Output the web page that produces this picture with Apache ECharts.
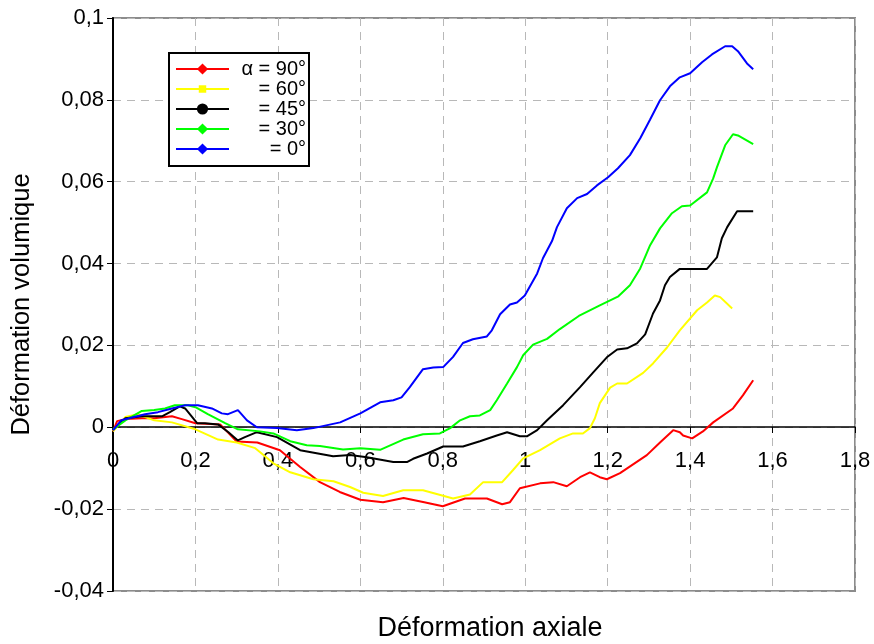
<!DOCTYPE html>
<html>
<head>
<meta charset="utf-8">
<script src="https://cdn.jsdelivr.net/npm/echarts@6/dist/echarts.min.js"></script>
<style>
  html, body { margin: 0; padding: 0; background: #fff; }
  #chart { width: 874px; height: 644px; }
</style>
</head>
<body>
<div id="chart"></div>
<script>
// [déformation axiale, déformation volumique]
const alpha90 = [[0,-0.001],[0.01,0.0015],[0.03,0.002],[0.07,0.0022],[0.1,0.0022],[0.143,0.0027],[0.167,0.002],[0.2,0.001],[0.26,0.0007],[0.3,-0.0035],[0.35,-0.0037],[0.405,-0.0056],[0.454,-0.0097],[0.502,-0.0134],[0.55,-0.0158],[0.6,-0.0177],[0.655,-0.0183],[0.705,-0.0173],[0.755,-0.0183],[0.8,-0.0193],[0.854,-0.0174],[0.907,-0.0174],[0.944,-0.0188],[0.963,-0.0183],[0.987,-0.0149],[1.036,-0.0137],[1.068,-0.0134],[1.101,-0.0144],[1.133,-0.0122],[1.157,-0.011],[1.181,-0.0122],[1.198,-0.0127],[1.23,-0.0112],[1.295,-0.0068],[1.327,-0.0037],[1.359,-0.0007],[1.375,-0.0012],[1.383,-0.002],[1.405,-0.0027],[1.431,-0.001],[1.456,0.0012],[1.504,0.0046],[1.528,0.0078],[1.553,0.0115]];
const alpha60 = [[0,-0.001],[0.03,0.0025],[0.06,0.0032],[0.1,0.0017],[0.143,0.0012],[0.2,-0.0005],[0.255,-0.003],[0.3,-0.0037],[0.345,-0.0051],[0.357,-0.0061],[0.389,-0.0088],[0.43,-0.011],[0.486,-0.0127],[0.535,-0.0132],[0.575,-0.0146],[0.607,-0.016],[0.655,-0.0168],[0.704,-0.0154],[0.752,-0.0154],[0.825,-0.0174],[0.866,-0.0164],[0.898,-0.0134],[0.944,-0.0134],[0.97,-0.0105],[0.995,-0.0076],[1.036,-0.0056],[1.084,-0.0027],[1.116,-0.0015],[1.14,-0.0015],[1.157,-0.0002],[1.169,0.0022],[1.181,0.0059],[1.206,0.0097],[1.223,0.0107],[1.247,0.0107],[1.286,0.0133],[1.31,0.0156],[1.344,0.0195],[1.375,0.0237],[1.417,0.0286],[1.441,0.0305],[1.46,0.0322],[1.473,0.0318],[1.502,0.029]];
const alpha45 = [[0,-0.0007],[0.03,0.0022],[0.07,0.0027],[0.12,0.0027],[0.138,0.0037],[0.162,0.0051],[0.175,0.0046],[0.204,0.001],[0.223,0.001],[0.255,0.0007],[0.28,-0.0012],[0.303,-0.0032],[0.32,-0.0024],[0.349,-0.0012],[0.398,-0.0024],[0.454,-0.0056],[0.534,-0.0071],[0.575,-0.0068],[0.616,-0.0073],[0.68,-0.0085],[0.713,-0.0085],[0.728,-0.0077],[0.762,-0.0064],[0.801,-0.0047],[0.849,-0.0047],[0.89,-0.0034],[0.931,-0.002],[0.956,-0.0012],[0.987,-0.0022],[1.004,-0.0022],[1.029,-0.0007],[1.053,0.0017],[1.092,0.0054],[1.133,0.0098],[1.165,0.0134],[1.198,0.0171],[1.223,0.019],[1.247,0.0193],[1.271,0.0205],[1.291,0.0227],[1.31,0.0278],[1.327,0.031],[1.339,0.0347],[1.351,0.0367],[1.375,0.0387],[1.441,0.0387],[1.465,0.0415],[1.477,0.0462],[1.49,0.0489],[1.514,0.0528],[1.553,0.0528]];
const alpha30 = [[0,-0.0005],[0.03,0.0017],[0.07,0.004],[0.1,0.0042],[0.126,0.0046],[0.15,0.0054],[0.182,0.0054],[0.2,0.0049],[0.23,0.0032],[0.272,0.001],[0.303,-0.0005],[0.357,-0.001],[0.389,-0.0015],[0.43,-0.0034],[0.47,-0.0044],[0.502,-0.0046],[0.558,-0.0054],[0.6,-0.0051],[0.648,-0.0055],[0.704,-0.003],[0.752,-0.0017],[0.793,-0.0015],[0.818,-0.0002],[0.842,0.0017],[0.866,0.0027],[0.89,0.0029],[0.915,0.0042],[0.931,0.0066],[0.956,0.0107],[0.98,0.0147],[0.995,0.0176],[1.019,0.0202],[1.053,0.0216],[1.084,0.024],[1.13,0.0272],[1.181,0.0298],[1.226,0.032],[1.254,0.0347],[1.279,0.0388],[1.303,0.0445],[1.327,0.0486],[1.356,0.0523],[1.38,0.054],[1.4,0.0542],[1.441,0.0574],[1.456,0.0608],[1.465,0.0635],[1.485,0.0689],[1.504,0.0716],[1.516,0.0713],[1.553,0.0692]];
const alpha0 = [[0,-0.0007],[0.02,0.0017],[0.046,0.0024],[0.078,0.0032],[0.109,0.0037],[0.143,0.0046],[0.175,0.0054],[0.206,0.0054],[0.24,0.0046],[0.264,0.0034],[0.279,0.0032],[0.303,0.0042],[0.325,0.0017],[0.349,0],[0.398,-0.0002],[0.446,-0.0007],[0.486,-0.0002],[0.551,0.0012],[0.6,0.0034],[0.648,0.0061],[0.68,0.0066],[0.7,0.0073],[0.72,0.0098],[0.752,0.0142],[0.777,0.0146],[0.801,0.0147],[0.825,0.0172],[0.849,0.0206],[0.873,0.0215],[0.907,0.0222],[0.919,0.0237],[0.939,0.0276],[0.963,0.03],[0.98,0.0305],[0.999,0.0322],[1.029,0.0376],[1.043,0.0413],[1.065,0.0455],[1.077,0.0489],[1.101,0.0535],[1.126,0.056],[1.15,0.057],[1.174,0.0591],[1.201,0.0611],[1.225,0.0633],[1.254,0.0665],[1.279,0.0706],[1.303,0.0752],[1.327,0.0799],[1.351,0.0833],[1.375,0.0855],[1.4,0.0865],[1.429,0.0892],[1.453,0.0911],[1.485,0.0931],[1.502,0.0931],[1.516,0.0919],[1.538,0.0889],[1.553,0.0875]];

const seriesNames = ['α = 90°', '= 60°', '= 45°', '= 30°', '= 0°'];
const seriesColors = ['#ff0000', '#ffff00', '#000000', '#00ff00', '#0000ff'];
// small square: the extra moveTo points pad the path bounds so the legend draws it smaller
const seriesSymbols = ['diamond', 'path://M0,0M12,12M2,2h8v8h-8z', 'circle', 'diamond', 'diamond'];
const seriesData = [alpha90, alpha60, alpha45, alpha30, alpha0];

const font = 'Liberation Sans, Arial, sans-serif';

function comma(v) {
  return String(Math.round(v * 1000) / 1000).replace('.', ',');
}

const dashed = { type: [8, 6], color: '#b8b8b8', width: 1 };

const chart = echarts.init(document.getElementById('chart'));
chart.setOption({
  animation: false,
  backgroundColor: '#fff',
  textStyle: { fontFamily: font },
  grid: {
    left: 113, right: 19, top: 18, bottom: 53,
    containLabel: false,
    outerBoundsMode: 'none',
    show: true, borderColor: '#8c8c8c', borderWidth: 2,
  },
  legend: {
    orient: 'vertical',
    left: 169, top: 53,
    padding: [6, 3, 7, 6],
    itemWidth: 53, itemHeight: 14, itemGap: 0,
    backgroundColor: '#fff',
    borderColor: '#000', borderWidth: 2,
    data: seriesNames,
    formatter: (name) => '{n|' + name + '}',
    textStyle: {
      fontFamily: font, fontSize: 20, color: '#000',
      rich: { n: { width: 72, align: 'right', fontSize: 20, fontFamily: font } },
    },
  },
  xAxis: {
    type: 'value',
    min: 0, max: 1.8, interval: 0.2,
    offset: -164,
    axisLine: { onZero: false, lineStyle: { color: '#000', width: 1.5 } },
    axisTick: { show: true, length: 6, lineStyle: { color: '#000' } },
    axisLabel: {
      color: '#000', fontSize: 22, margin: 23, formatter: comma,
      alignMinLabel: 'center', alignMaxLabel: 'center',
    },
    splitLine: { show: true, lineStyle: dashed },
  },
  yAxis: {
    type: 'value',
    min: -0.04, max: 0.1, interval: 0.02,
    name: 'Déformation volumique',
    nameLocation: 'middle', nameGap: 78, nameRotate: 90,
    nameTextStyle: { fontSize: 25.5, color: '#000' },
    axisLine: { onZero: false, lineStyle: { color: '#000', width: 2 } },
    axisTick: { show: true, length: 6, lineStyle: { color: '#000' } },
    axisLabel: { color: '#000', fontSize: 22, margin: 9, formatter: comma },
    splitLine: { show: true, lineStyle: dashed },
  },
  graphic: [{
    type: 'text', x: 490, y: 629,
    style: {
      text: 'Déformation axiale', fontSize: 27, fontFamily: font,
      fill: '#000', align: 'center', verticalAlign: 'middle',
    },
  }],
  series: seriesData.map((d, i) => ({
    name: seriesNames[i],
    type: 'line',
    data: d,
    symbol: seriesSymbols[i],
    showSymbol: false,
    lineStyle: { color: seriesColors[i], width: 2 },
    itemStyle: { color: seriesColors[i] },
  })),
});
</script>
</body>
</html>
